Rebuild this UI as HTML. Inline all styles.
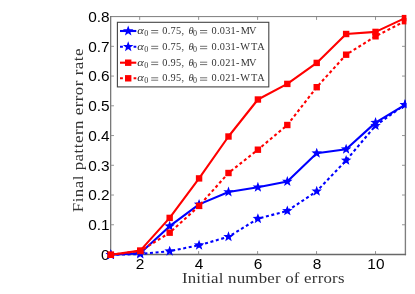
<!DOCTYPE html>
<html><head><meta charset="utf-8"><title>plot</title>
<style>
html,body{margin:0;padding:0;background:#fff;}
body{width:415px;height:294px;overflow:hidden;}
svg{display:block;will-change:transform;}
.tk{font-family:"Liberation Sans",sans-serif;font-size:15.4px;fill:#000;}
.lg{font-family:"Liberation Serif",serif;font-size:10.3px;fill:#333;}
.gk{font-family:"Liberation Serif",serif;font-style:italic;font-size:10px;fill:#333;}
.gk2{font-family:"Liberation Serif",serif;font-style:italic;font-size:10.5px;fill:#333;}
.sub{font-family:"Liberation Serif",serif;font-size:8px;fill:#333;}
.ax{font-family:"Liberation Serif",serif;font-size:14.5px;fill:#333;}
</style></head><body>
<svg width="415" height="294" viewBox="0 0 415 294">
<defs><clipPath id="cp"><rect x="0" y="0" width="406.4" height="294"/></clipPath></defs>
<rect width="415" height="294" fill="#fff"/>
<path d="M110.6 16.6H405.4" fill="none" stroke="#7c7c7c" stroke-width="1.0"/>
<path d="M110.69999999999999 254.5V16.1" fill="none" stroke="#666" stroke-width="1.15"/>
<path d="M405.4 255.2V16.1" fill="none" stroke="#7e7e7e" stroke-width="1.35"/>
<path d="M110.1 254.5H406.04999999999995" fill="none" stroke="#686868" stroke-width="1.5"/>
<path d="M139.68 254.5v-3.4M139.68 16.6v3.3" stroke="#808080" stroke-width="0.85"/>
<text x="140.08" y="268.6" class="tk" text-anchor="middle">2</text>
<path d="M198.64 254.5v-3.4M198.64 16.6v3.3" stroke="#808080" stroke-width="0.85"/>
<text x="199.04" y="268.6" class="tk" text-anchor="middle">4</text>
<path d="M257.60 254.5v-3.4M257.60 16.6v3.3" stroke="#808080" stroke-width="0.85"/>
<text x="258.00" y="268.6" class="tk" text-anchor="middle">6</text>
<path d="M316.56 254.5v-3.4M316.56 16.6v3.3" stroke="#808080" stroke-width="0.85"/>
<text x="316.96" y="268.6" class="tk" text-anchor="middle">8</text>
<path d="M375.52 254.5v-3.4M375.52 16.6v3.3" stroke="#808080" stroke-width="0.85"/>
<text x="375.92" y="268.6" class="tk" text-anchor="middle">10</text>
<text x="109.6" y="259.90" class="tk" text-anchor="end">0</text>
<path d="M110.6 224.76h3.4M405.4 224.76h-3.4" stroke="#8a8a8a" stroke-width="0.9"/>
<text x="109.6" y="230.16" class="tk" text-anchor="end">0.1</text>
<path d="M110.6 195.03h3.4M405.4 195.03h-3.4" stroke="#8a8a8a" stroke-width="0.9"/>
<text x="109.6" y="200.43" class="tk" text-anchor="end">0.2</text>
<path d="M110.6 165.29h3.4M405.4 165.29h-3.4" stroke="#8a8a8a" stroke-width="0.9"/>
<text x="109.6" y="170.69" class="tk" text-anchor="end">0.3</text>
<path d="M110.6 135.55h3.4M405.4 135.55h-3.4" stroke="#8a8a8a" stroke-width="0.9"/>
<text x="109.6" y="140.95" class="tk" text-anchor="end">0.4</text>
<path d="M110.6 105.81h3.4M405.4 105.81h-3.4" stroke="#8a8a8a" stroke-width="0.9"/>
<text x="109.6" y="111.21" class="tk" text-anchor="end">0.5</text>
<path d="M110.6 76.07h3.4M405.4 76.07h-3.4" stroke="#8a8a8a" stroke-width="0.9"/>
<text x="109.6" y="81.47" class="tk" text-anchor="end">0.6</text>
<path d="M110.6 46.34h3.4M405.4 46.34h-3.4" stroke="#8a8a8a" stroke-width="0.9"/>
<text x="109.6" y="51.74" class="tk" text-anchor="end">0.7</text>
<text x="109.6" y="22.00" class="tk" text-anchor="end">0.8</text>
<g clip-path="url(#cp)">
<polyline points="110.85,254.80 140.26,253.30 169.67,226.20 199.08,204.40 228.49,192.00 257.90,187.30 287.31,181.50 316.72,153.20 346.13,149.20 375.54,122.60 404.95,104.80" fill="none" stroke="#0000ff" stroke-width="2.1" stroke-linejoin="round"/>
<polygon points="110.85,249.30 112.20,252.94 116.08,253.10 113.04,255.51 114.08,259.25 110.85,257.10 107.62,259.25 108.66,255.51 105.62,253.10 109.50,252.94" fill="#0000ff"/>
<polygon points="140.26,247.80 141.61,251.44 145.49,251.60 142.45,254.01 143.49,257.75 140.26,255.60 137.03,257.75 138.07,254.01 135.03,251.60 138.91,251.44" fill="#0000ff"/>
<polygon points="169.67,220.70 171.02,224.34 174.90,224.50 171.86,226.91 172.90,230.65 169.67,228.50 166.44,230.65 167.48,226.91 164.44,224.50 168.32,224.34" fill="#0000ff"/>
<polygon points="199.08,198.90 200.43,202.54 204.31,202.70 201.27,205.11 202.31,208.85 199.08,206.70 195.85,208.85 196.89,205.11 193.85,202.70 197.73,202.54" fill="#0000ff"/>
<polygon points="228.49,186.50 229.84,190.14 233.72,190.30 230.68,192.71 231.72,196.45 228.49,194.30 225.26,196.45 226.30,192.71 223.26,190.30 227.14,190.14" fill="#0000ff"/>
<polygon points="257.90,181.80 259.25,185.44 263.13,185.60 260.09,188.01 261.13,191.75 257.90,189.60 254.67,191.75 255.71,188.01 252.67,185.60 256.55,185.44" fill="#0000ff"/>
<polygon points="287.31,176.00 288.66,179.64 292.54,179.80 289.50,182.21 290.54,185.95 287.31,183.80 284.08,185.95 285.12,182.21 282.08,179.80 285.96,179.64" fill="#0000ff"/>
<polygon points="316.72,147.70 318.07,151.34 321.95,151.50 318.91,153.91 319.95,157.65 316.72,155.50 313.49,157.65 314.53,153.91 311.49,151.50 315.37,151.34" fill="#0000ff"/>
<polygon points="346.13,143.70 347.48,147.34 351.36,147.50 348.32,149.91 349.36,153.65 346.13,151.50 342.90,153.65 343.94,149.91 340.90,147.50 344.78,147.34" fill="#0000ff"/>
<polygon points="375.54,117.10 376.89,120.74 380.77,120.90 377.73,123.31 378.77,127.05 375.54,124.90 372.31,127.05 373.35,123.31 370.31,120.90 374.19,120.74" fill="#0000ff"/>
<polygon points="404.95,99.30 406.30,102.94 410.18,103.10 407.14,105.51 408.18,109.25 404.95,107.10 401.72,109.25 402.76,105.51 399.72,103.10 403.60,102.94" fill="#0000ff"/>
<polyline points="110.85,254.80 140.26,254.00 169.67,251.20 199.08,245.20 228.49,236.80 257.90,218.70 287.31,210.90 316.72,191.30 346.13,160.40 375.54,125.60 404.95,104.80" fill="none" stroke="#0000ff" stroke-width="2.1" stroke-dasharray="3.0 2.6" stroke-linejoin="round"/>
<polygon points="110.85,249.30 112.20,252.94 116.08,253.10 113.04,255.51 114.08,259.25 110.85,257.10 107.62,259.25 108.66,255.51 105.62,253.10 109.50,252.94" fill="#0000ff"/>
<polygon points="140.26,248.50 141.61,252.14 145.49,252.30 142.45,254.71 143.49,258.45 140.26,256.30 137.03,258.45 138.07,254.71 135.03,252.30 138.91,252.14" fill="#0000ff"/>
<polygon points="169.67,245.70 171.02,249.34 174.90,249.50 171.86,251.91 172.90,255.65 169.67,253.50 166.44,255.65 167.48,251.91 164.44,249.50 168.32,249.34" fill="#0000ff"/>
<polygon points="199.08,239.70 200.43,243.34 204.31,243.50 201.27,245.91 202.31,249.65 199.08,247.50 195.85,249.65 196.89,245.91 193.85,243.50 197.73,243.34" fill="#0000ff"/>
<polygon points="228.49,231.30 229.84,234.94 233.72,235.10 230.68,237.51 231.72,241.25 228.49,239.10 225.26,241.25 226.30,237.51 223.26,235.10 227.14,234.94" fill="#0000ff"/>
<polygon points="257.90,213.20 259.25,216.84 263.13,217.00 260.09,219.41 261.13,223.15 257.90,221.00 254.67,223.15 255.71,219.41 252.67,217.00 256.55,216.84" fill="#0000ff"/>
<polygon points="287.31,205.40 288.66,209.04 292.54,209.20 289.50,211.61 290.54,215.35 287.31,213.20 284.08,215.35 285.12,211.61 282.08,209.20 285.96,209.04" fill="#0000ff"/>
<polygon points="316.72,185.80 318.07,189.44 321.95,189.60 318.91,192.01 319.95,195.75 316.72,193.60 313.49,195.75 314.53,192.01 311.49,189.60 315.37,189.44" fill="#0000ff"/>
<polygon points="346.13,154.90 347.48,158.54 351.36,158.70 348.32,161.11 349.36,164.85 346.13,162.70 342.90,164.85 343.94,161.11 340.90,158.70 344.78,158.54" fill="#0000ff"/>
<polygon points="375.54,120.10 376.89,123.74 380.77,123.90 377.73,126.31 378.77,130.05 375.54,127.90 372.31,130.05 373.35,126.31 370.31,123.90 374.19,123.74" fill="#0000ff"/>
<polygon points="404.95,99.30 406.30,102.94 410.18,103.10 407.14,105.51 408.18,109.25 404.95,107.10 401.72,109.25 402.76,105.51 399.72,103.10 403.60,102.94" fill="#0000ff"/>
<polyline points="110.85,254.80 140.26,250.60 169.67,217.90 199.08,178.40 228.49,136.50 257.90,99.50 287.31,83.90 316.72,62.90 346.13,34.00 375.54,31.90 404.95,18.10" fill="none" stroke="#ff0000" stroke-width="2.1" stroke-linejoin="round"/>
<rect x="107.65" y="251.60" width="6.4" height="6.4" fill="#ff0000"/>
<rect x="137.06" y="247.40" width="6.4" height="6.4" fill="#ff0000"/>
<rect x="166.47" y="214.70" width="6.4" height="6.4" fill="#ff0000"/>
<rect x="195.88" y="175.20" width="6.4" height="6.4" fill="#ff0000"/>
<rect x="225.29" y="133.30" width="6.4" height="6.4" fill="#ff0000"/>
<rect x="254.70" y="96.30" width="6.4" height="6.4" fill="#ff0000"/>
<rect x="284.11" y="80.70" width="6.4" height="6.4" fill="#ff0000"/>
<rect x="313.52" y="59.70" width="6.4" height="6.4" fill="#ff0000"/>
<rect x="342.93" y="30.80" width="6.4" height="6.4" fill="#ff0000"/>
<rect x="372.34" y="28.70" width="6.4" height="6.4" fill="#ff0000"/>
<rect x="401.75" y="14.90" width="6.4" height="6.4" fill="#ff0000"/>
<polyline points="110.85,254.80 140.26,251.00 169.67,232.70 199.08,205.90 228.49,173.00 257.90,149.70 287.31,125.00 316.72,87.20 346.13,54.70 375.54,36.30 404.95,21.20" fill="none" stroke="#ff0000" stroke-width="2.1" stroke-dasharray="3.0 2.6" stroke-linejoin="round"/>
<rect x="107.65" y="251.60" width="6.4" height="6.4" fill="#ff0000"/>
<rect x="137.06" y="247.80" width="6.4" height="6.4" fill="#ff0000"/>
<rect x="166.47" y="229.50" width="6.4" height="6.4" fill="#ff0000"/>
<rect x="195.88" y="202.70" width="6.4" height="6.4" fill="#ff0000"/>
<rect x="225.29" y="169.80" width="6.4" height="6.4" fill="#ff0000"/>
<rect x="254.70" y="146.50" width="6.4" height="6.4" fill="#ff0000"/>
<rect x="284.11" y="121.80" width="6.4" height="6.4" fill="#ff0000"/>
<rect x="313.52" y="84.00" width="6.4" height="6.4" fill="#ff0000"/>
<rect x="342.93" y="51.50" width="6.4" height="6.4" fill="#ff0000"/>
<rect x="372.34" y="33.10" width="6.4" height="6.4" fill="#ff0000"/>
<rect x="401.75" y="18.00" width="6.4" height="6.4" fill="#ff0000"/>
</g>
<rect x="117.4" y="22.3" width="151.4" height="64.6" fill="#fff" stroke="#444" stroke-width="1.1"/>
<path d="M120 31.0H136.3" stroke="#0000ff" stroke-width="2.1"/>
<polygon points="128.20,25.50 129.55,29.14 133.43,29.30 130.39,31.71 131.43,35.45 128.20,33.30 124.97,35.45 126.01,31.71 122.97,29.30 126.85,29.14" fill="#0000ff"/>
<text transform="translate(137.2,33.95) scale(1.25,1)" class="gk">α</text>
<text x="144.3" y="35.95" class="sub">0</text>
<path d="M151.2 30.5h7M151.2 32.9h7" stroke="#444" stroke-width="0.75"/>
<text x="162.3" y="33.95" class="lg" textLength="21.8" lengthAdjust="spacing">0.75,</text>
<text x="188.6" y="33.95" class="gk2">θ</text>
<text x="193.0" y="35.95" class="sub">0</text>
<path d="M200.0 30.5h7.2M200.0 32.9h7.2" stroke="#444" stroke-width="0.75"/>
<text x="211.5" y="33.95" class="lg" textLength="27.9" lengthAdjust="spacing">0.031-</text>
<text x="240.8" y="33.95" class="lg" textLength="15.6" lengthAdjust="spacing">MV</text>
<path d="M120 46.8H122.9M133.6 46.8H136.3" stroke="#0000ff" stroke-width="2.1"/>
<polygon points="128.20,41.30 129.55,44.94 133.43,45.10 130.39,47.51 131.43,51.25 128.20,49.10 124.97,51.25 126.01,47.51 122.97,45.10 126.85,44.94" fill="#0000ff"/>
<text transform="translate(137.2,49.75) scale(1.25,1)" class="gk">α</text>
<text x="144.3" y="51.75" class="sub">0</text>
<path d="M151.2 46.3h7M151.2 48.699999999999996h7" stroke="#444" stroke-width="0.75"/>
<text x="162.3" y="49.75" class="lg" textLength="21.8" lengthAdjust="spacing">0.75,</text>
<text x="188.6" y="49.75" class="gk2">θ</text>
<text x="193.0" y="51.75" class="sub">0</text>
<path d="M200.0 46.3h7.2M200.0 48.699999999999996h7.2" stroke="#444" stroke-width="0.75"/>
<text x="211.5" y="49.75" class="lg" textLength="27.9" lengthAdjust="spacing">0.031-</text>
<text x="240.3" y="49.75" class="lg" textLength="24.4" lengthAdjust="spacing">WTA</text>
<path d="M120 62.7H136.3" stroke="#ff0000" stroke-width="2.1"/>
<rect x="125.00" y="59.50" width="6.4" height="6.4" fill="#ff0000"/>
<text transform="translate(137.2,65.65) scale(1.25,1)" class="gk">α</text>
<text x="144.3" y="67.65" class="sub">0</text>
<path d="M151.2 62.2h7M151.2 64.60000000000001h7" stroke="#444" stroke-width="0.75"/>
<text x="162.3" y="65.65" class="lg" textLength="21.8" lengthAdjust="spacing">0.95,</text>
<text x="188.6" y="65.65" class="gk2">θ</text>
<text x="193.0" y="67.65" class="sub">0</text>
<path d="M200.0 62.2h7.2M200.0 64.60000000000001h7.2" stroke="#444" stroke-width="0.75"/>
<text x="211.5" y="65.65" class="lg" textLength="27.9" lengthAdjust="spacing">0.021-</text>
<text x="240.8" y="65.65" class="lg" textLength="15.6" lengthAdjust="spacing">MV</text>
<path d="M120 78.3H122.9M133.6 78.3H136.3" stroke="#ff0000" stroke-width="2.1"/>
<rect x="125.00" y="75.10" width="6.4" height="6.4" fill="#ff0000"/>
<text transform="translate(137.2,81.25) scale(1.25,1)" class="gk">α</text>
<text x="144.3" y="83.25" class="sub">0</text>
<path d="M151.2 77.8h7M151.2 80.2h7" stroke="#444" stroke-width="0.75"/>
<text x="162.3" y="81.25" class="lg" textLength="21.8" lengthAdjust="spacing">0.95,</text>
<text x="188.6" y="81.25" class="gk2">θ</text>
<text x="193.0" y="83.25" class="sub">0</text>
<path d="M200.0 77.8h7.2M200.0 80.2h7.2" stroke="#444" stroke-width="0.75"/>
<text x="211.5" y="81.25" class="lg" textLength="27.9" lengthAdjust="spacing">0.021-</text>
<text x="240.3" y="81.25" class="lg" textLength="24.4" lengthAdjust="spacing">WTA</text>
<text transform="translate(181.9,282.5) scale(1.16,1)" class="ax" textLength="140.17" lengthAdjust="spacing">Initial number of errors</text>
<text transform="translate(83.4,212.2) rotate(-90) scale(1.16,1)" class="ax" textLength="141.03" lengthAdjust="spacing">Final pattern error rate</text>
</svg>
</body></html>
